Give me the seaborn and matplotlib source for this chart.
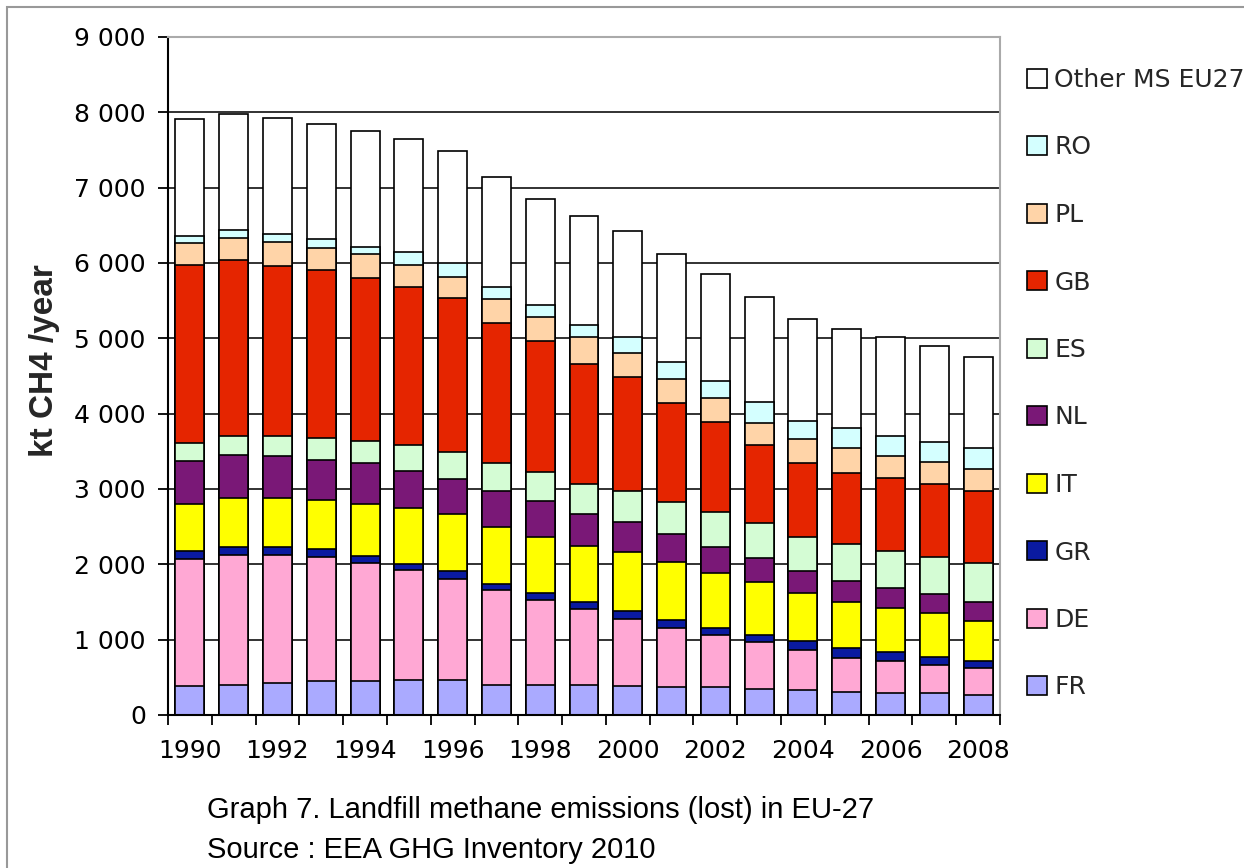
import numpy as np
import pandas as pd
import matplotlib
matplotlib.use('Agg')
from matplotlib import pyplot as plt
from matplotlib.patches import Rectangle, Patch
from matplotlib.ticker import FuncFormatter, FixedLocator
import seaborn as sns

# kt CH4 / year, stacked bottom -> top
years = [str(y) for y in range(1990, 2009)]
FR = [383, 404, 425, 446, 446, 467, 467, 403, 403, 403, 384, 369, 369, 341, 332, 310, 288, 288, 265]
DE = [1689, 1721, 1700, 1653, 1574, 1458, 1333, 1250, 1122, 1004, 895, 792, 697, 624, 531, 451, 429, 376, 354]
GR = [105, 100, 100, 99, 89, 79, 105, 85, 100, 99, 104, 94, 95, 97, 119, 124, 124, 101, 98]
IT = [630, 661, 661, 661, 698, 750, 760, 758, 743, 744, 787, 772, 720, 699, 642, 615, 575, 585, 535]
NL = [561, 566, 551, 525, 535, 483, 472, 474, 474, 417, 397, 375, 345, 319, 288, 279, 265, 252, 248]
ES = [247, 252, 267, 299, 294, 346, 352, 370, 379, 403, 408, 431, 465, 464, 455, 491, 500, 500, 522]
GB = [2361, 2335, 2261, 2219, 2161, 2094, 2046, 1861, 1739, 1587, 1511, 1312, 1193, 1040, 974, 947, 961, 964, 951]
PL = [294, 299, 315, 294, 326, 299, 283, 327, 322, 355, 322, 317, 318, 297, 318, 323, 296, 297, 292]
RO = [94, 99, 105, 116, 94, 168, 179, 156, 166, 166, 213, 218, 227, 269, 248, 274, 270, 265, 275]
OTHER = [1543, 1538, 1542, 1532, 1537, 1505, 1490, 1459, 1397, 1440, 1398, 1445, 1431, 1394, 1345, 1310, 1314, 1275, 1217]

series = ['FR', 'DE', 'GR', 'IT', 'NL', 'ES', 'GB', 'PL', 'RO', 'Other MS EU27']
colors = ['#AAAAFF', '#FFA8D4', '#0A1AA0', '#FFFF00', '#7A1877',
          '#D4FCD4', '#E52500', '#FFD4A8', '#D4FFFF', '#FFFFFF']

df = pd.DataFrame({'year': years, 'FR': FR, 'DE': DE, 'GR': GR, 'IT': IT,
                   'NL': NL, 'ES': ES, 'GB': GB, 'PL': PL, 'RO': RO,
                   'Other MS EU27': OTHER})
cum = df[series].cumsum(axis=1)
cum['year'] = df['year']

sns.set_theme(style='white')
plt.rcParams['font.family'] = ['DejaVu Sans']

fig = plt.figure(figsize=(12.44, 8.68), dpi=100)
ax = fig.add_axes([168/1244, 1-715/868, 832/1244, 678/868])

# draw cumulative totals from the top series down so that they look stacked
for name, col in zip(series[::-1], colors[::-1]):
    sns.barplot(data=cum, x='year', y=name, order=years, color=col,
                saturation=1, width=0.66, edgecolor='black', linewidth=1.2,
                errorbar=None, ax=ax)

ax.set_xlim(-0.5, 18.5)
ax.set_ylim(0, 9000)
ax.set_yticks(np.arange(0, 9001, 1000))
ax.yaxis.set_major_formatter(FuncFormatter(lambda v, p: f'{int(v):,}'.replace(',', ' ')))
ax.grid(axis='y', color='#222222', linewidth=1.3)
ax.grid(axis='x', visible=False)
ax.set_axisbelow(True)

ax.set_xticks(range(len(years)))
ax.set_xticklabels([y if i % 2 == 0 else '' for i, y in enumerate(years)])
ax.xaxis.set_minor_locator(FixedLocator(np.arange(-0.5, 19, 1)))
ax.tick_params(axis='x', which='major', length=0, pad=17, labelsize=18, colors='black')
ax.tick_params(axis='x', which='minor', length=7, width=1.3, direction='out',
               color='black', bottom=True)
ax.tick_params(axis='y', length=7, width=1.3, direction='out', left=True,
               labelsize=18, pad=9, colors='black')

ax.set_xlabel('')
ax.set_ylabel('kt CH4 /year', fontsize=24, fontweight='bold',
              family='Liberation Sans')
ax.yaxis.set_label_coords((60-168)/832, (715-361)/678)

for s in ['left', 'bottom']:
    ax.spines[s].set_color('black')
    ax.spines[s].set_linewidth(1.5)
for s in ['top', 'right']:
    ax.spines[s].set_color('#aaaaaa')
    ax.spines[s].set_linewidth(1.5)

handles = [Patch(facecolor=c, edgecolor='black', linewidth=1.2, label=n)
           for n, c in zip(series[::-1], colors[::-1])]
fig.legend(handles=handles, loc='upper left', bbox_to_anchor=(1027/1244, 1-68/868),
           frameon=False, fontsize=18, handlelength=0.8, handleheight=0.8,
           handletextpad=0.3, labelspacing=1.74, borderaxespad=0, borderpad=0)

fig.text(207/1244, 1-818/868, 'Graph 7. Landfill methane emissions (lost) in EU-27',
         family='Liberation Sans', fontsize=21, color='black')
fig.text(207/1244, 1-858/868, 'Source : EEA GHG Inventory 2010',
         family='Liberation Sans', fontsize=21, color='black')

# grey page frame
fig.patches.append(Rectangle((7/1244, -0.2), 1.5, 0.2 + 1-7/868, transform=fig.transFigure,
                             fill=False, edgecolor='#999999', linewidth=1.5, clip_on=False))

fig.savefig('out.png', dpi=100)
